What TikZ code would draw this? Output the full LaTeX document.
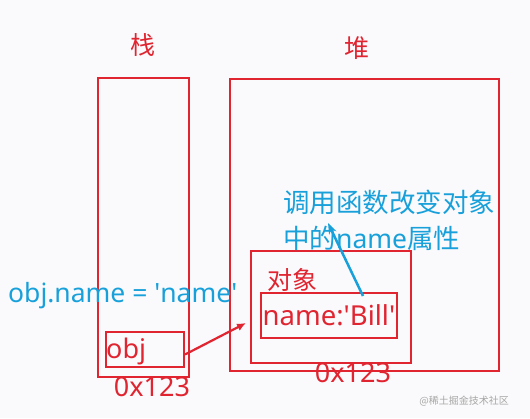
\documentclass[tikz,border=0pt]{standalone}
\usepackage{fontspec}
\setmainfont{Noto Sans CJK SC}
\newfontfamily\latinfont{Noto Sans}
\usetikzlibrary{arrows.meta,positioning}
\definecolor{memred}{RGB}{224,36,48}
\definecolor{noteblue}{RGB}{24,160,218}
\definecolor{paper}{RGB}{250,250,252}
\newcommand{\q}{\textquotesingle}

\begin{document}
\begin{tikzpicture}[
  x=1pt, y=-1pt,
  font=\fontsize{25}{30}\selectfont,
  box/.style={draw=memred, line width=2pt, inner sep=0pt},
  memtext/.style={text=memred, inner sep=0pt},
  notetext/.style={text=noteblue, inner sep=0pt, font=\fontsize{26.5}{31}\selectfont},
  addr/.style={text=memred, inner sep=0pt, anchor=base, font=\fontsize{27}{32}\selectfont\latinfont},
  ptr/.style={-{Latex[length=9pt,width=8pt]}, draw=memred, line width=2.2pt},
  call/.style={-{Stealth[length=11pt,width=8pt]}, draw=noteblue, line width=2.5pt}
]

% Background and page size
\fill[paper] (0,0) rectangle (530,418);
\useasboundingbox (0,0) rectangle (530,418);

% Stack
\node[memtext] (stacktitle) at (143,45) {栈};
\node[box, minimum width=91pt, minimum height=299pt] (stack) at (143.5,227.5) {};
\node[box, minimum width=78pt, minimum height=35pt] (objbox) at (145,349.5) {};
\node[memtext, anchor=base west, font=\fontsize{27}{32}\selectfont] (objname) at (106,358) {\latinfont obj};
\node[addr] (stackaddr) at (152,396) {0x123};

% Heap
\node[memtext] (heaptitle) at (357,48) {堆};
\node[box, minimum width=269pt, minimum height=292pt] (heap) at (364.5,225) {};
\node[box, minimum width=160pt, minimum height=112pt] (object) at (331,307) {};
\node[memtext] (objtitle) at (292,280) {对象};
\node[box, text=memred, minimum width=136pt, minimum height=45pt, font=\fontsize{27.5}{32}\selectfont] (bill) at (329,315.5) {\latinfont name:\q Bill\q};
\node[addr] (heapaddr) at (353,382) {0x123};

% Notes
\node[notetext, anchor=base west] (assign) at (8,302) {\latinfont obj.name = \q name\q};
\node[notetext, anchor=base west] (callnote) at (283,212) {调用函数改变对象};
\node[notetext, anchor=base west] (callnotetwo) at ([yshift=-36pt]callnote.base west) {中的{\latinfont name}属性};
\coordinate (calltip) at (328,223);

% Connectors
\draw[ptr] ([yshift=-5pt]objbox.east) -- ([xshift=-4pt,yshift=-16pt]object.west);
\draw[call] ([xshift=34pt,yshift=-4pt]bill.north) -- (calltip);

% Watermark
\node[text=black!35, inner sep=0pt, anchor=east, font=\fontsize{10}{12}\selectfont] (mark) at (509,401) {@稀土掘金技术社区};

\end{tikzpicture}
\end{document}
